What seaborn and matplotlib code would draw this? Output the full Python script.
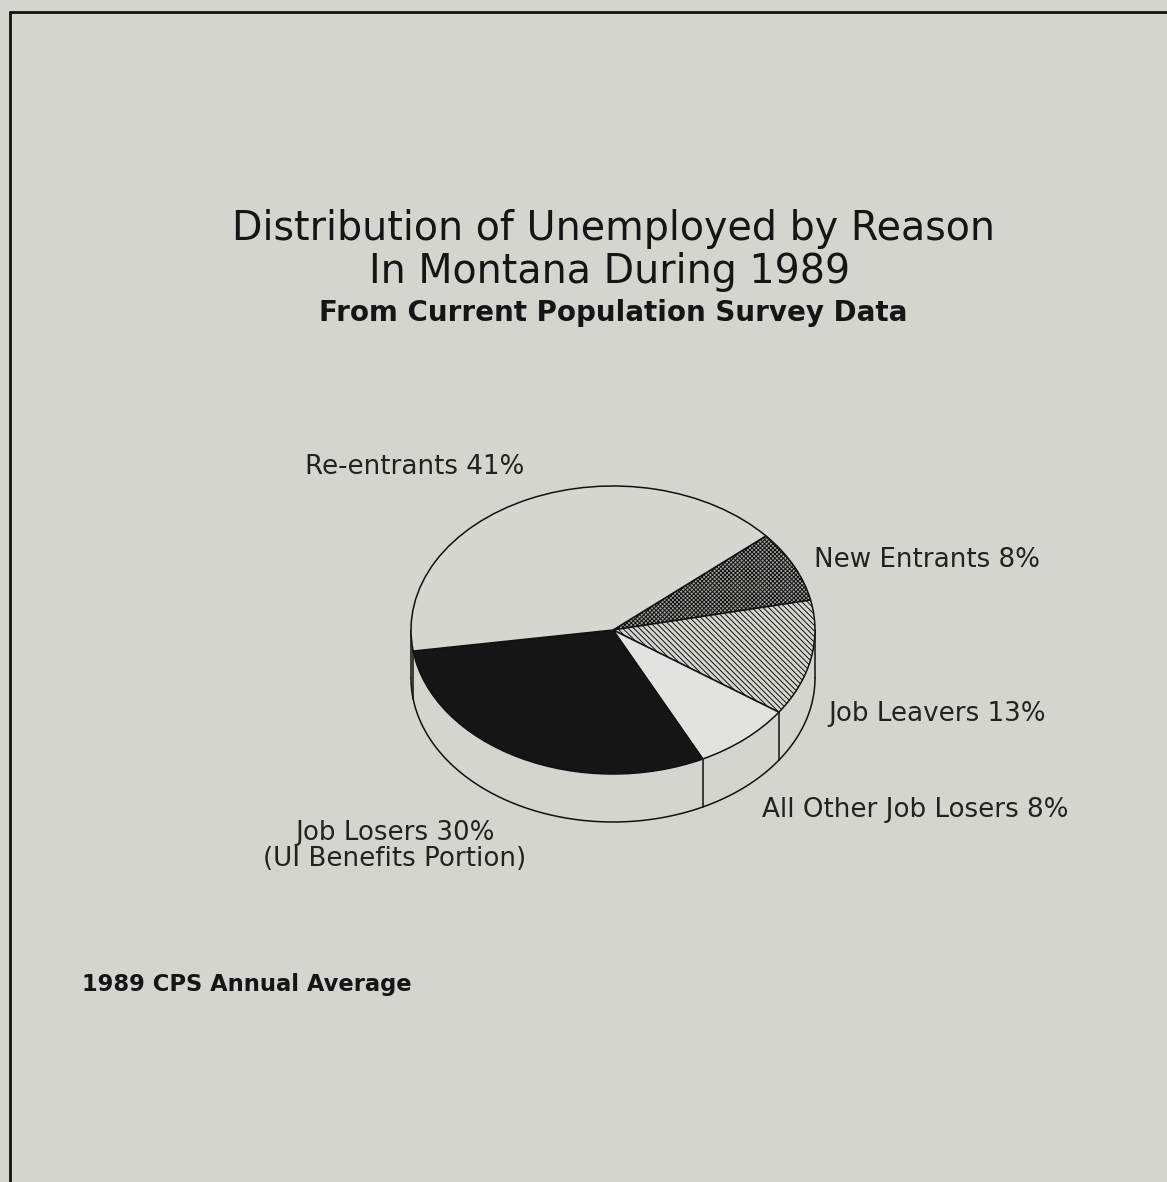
import numpy as np
import matplotlib
matplotlib.use("Agg")
import matplotlib.pyplot as plt
from matplotlib.lines import Line2D
import seaborn as sns

# ---- data ----
categories = ["New Entrants", "Job Leavers", "All Other Job Losers", "Job Losers", "Re-entrants"]
shares = [8, 13, 8, 30, 41]
label_texts = ["New Entrants 8%", "Job Leavers 13%", "All Other Job Losers 8%",
               "Job Losers 30%\n(UI Benefits Portion)", "Re-entrants 41%"]
title_lines = ["Distribution of Unemployed by Reason", "In Montana During 1989"]
subtitle = "From Current Population Survey Data"
footnote = "1989 CPS Annual Average"

BG = "#d5d5d0"
sns.set_theme(style="white", rc={"figure.facecolor": BG, "axes.facecolor": BG,
                                 "savefig.facecolor": BG, "hatch.linewidth": 0.7})
plt.rcParams["font.family"] = ["DejaVu Sans"]

W, H = 1167, 1182
fig = plt.figure(figsize=(W / 100, H / 100), dpi=100)

def fx(x):
    return x / W

def fy(y):
    return 1 - y / H

# frame lines
fig.add_artist(Line2D([fx(9.5), fx(9.5)], [fy(11.5), 0], color="#111111", lw=2.0))
fig.add_artist(Line2D([fx(9.5), 1], [fy(11.5), fy(11.5)], color="#111111", lw=2.0))

# ---- pie axes (3D-looking tilted pie) ----
cx, cy, a_px, b_px, d_px = 613, 630, 202, 144, 48
d = d_px / b_px
left_px = cx - 1.1 * a_px
top_px = cy - 1.1 * b_px
w_px = 2.2 * a_px
h_px = (2.2 + d) * b_px
ax = fig.add_axes([fx(left_px), fy(top_px + h_px), w_px / W, h_px / H])

startangle = 40.8
colors = ["#a5a5a0", BG, "#e2e2de", "#151515", "#d7d7d2"]
hatches = ["xxxxxxxx", "\\\\\\\\\\\\", "", "", ""]

wedges, _ = ax.pie(shares, startangle=startangle, counterclock=False, colors=colors,
                   radius=1.0, center=(0, 0),
                   wedgeprops=dict(edgecolor="#111111", linewidth=1.1))
for wdg, h in zip(wedges, hatches):
    if h:
        wdg.set_hatch(h)
    wdg.set_zorder(3)

ax.set_aspect("auto")
ax.set_xlim(-1.1, 1.1)
ax.set_ylim(-1.1 - d, 1.1)
ax.axis("off")

# side wall of the tilted pie
t = np.linspace(np.pi, 2 * np.pi, 300)
xs = np.cos(t)
ys = np.sin(t)
ax.fill_between(xs, ys - d, ys, color=BG, zorder=1, lw=0)
ax.plot(xs, ys - d, color="#111111", lw=1.1, zorder=2)
ax.plot([-1, -1], [0, -d], color="#111111", lw=1.1, zorder=2)
ax.plot([1, 1], [0, -d], color="#111111", lw=1.1, zorder=2)
# boundaries between slices on the front side
cum = np.cumsum(shares)
for c in cum[:-1]:
    ang = np.deg2rad(startangle - 360 * c / sum(shares))
    if np.sin(ang) < 0:
        ax.plot([np.cos(ang)] * 2, [np.sin(ang), np.sin(ang) - d],
                color="#111111", lw=1.1, zorder=2)

# ---- texts ----
tc = "#151515"
fig.text(fx(613), fy(229), title_lines[0], ha="center", va="center", fontsize=28.5, color=tc)
fig.text(fx(610), fy(272), title_lines[1], ha="center", va="center", fontsize=28.5, color=tc)
fig.text(fx(613), fy(313), subtitle, ha="center", va="center", fontsize=20,
         fontweight="bold", color=tc)

lab_kw = dict(fontsize=18.8, color="#222222")
fig.text(fx(814), fy(560), label_texts[0], ha="left", va="center", **lab_kw)
fig.text(fx(828), fy(714), label_texts[1], ha="left", va="center", **lab_kw)
fig.text(fx(762), fy(810), label_texts[2], ha="left", va="center", **lab_kw)
fig.text(fx(395), fy(846), label_texts[3], ha="center", va="center",
         linespacing=1.05, **lab_kw)
fig.text(fx(305), fy(467), label_texts[4], ha="left", va="center", **lab_kw)

fig.text(fx(82), fy(985), footnote, ha="left", va="center", fontsize=16.3,
         fontweight="bold", color=tc)

fig.savefig("out.png", dpi=100, facecolor=BG)
